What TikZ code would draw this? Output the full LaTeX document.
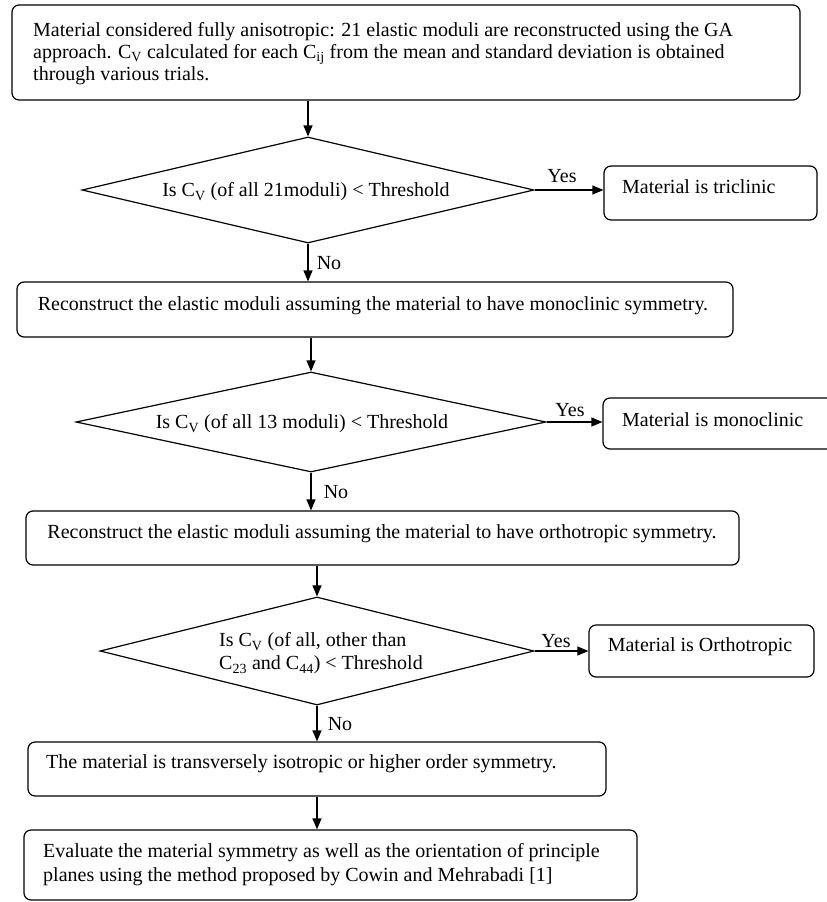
\documentclass[tikz,border=0pt]{standalone}
\usepackage{fontspec}
\setmainfont{Liberation Serif}
\usetikzlibrary{arrows.meta,shapes.geometric}
\tikzset{
  box/.style={draw, line width=1.2pt, rounded corners=7pt, inner sep=0pt},
  dia/.style={draw, diamond, line width=1.2pt, inner sep=0pt},
  txt/.style={inner sep=0pt, font=\fontsize{20}{23}\selectfont, align=left},
  conn/.style={line width=1.2pt, -{Triangle[length=11pt,width=9pt]}},
  lbl/.style={inner sep=0pt, font=\fontsize{20}{23}\selectfont},
}
\begin{document}
\begin{tikzpicture}[x=1pt,y=-1pt]
\useasboundingbox[fill=white] (0,0) rectangle (827,902);
% boxes
\node[box, minimum width=788pt, minimum height=95pt] (b1) at (406,52.5) {};
\node[box, minimum width=213pt, minimum height=54pt] (tri) at (710.5,193) {};
\node[box, minimum width=716pt, minimum height=55pt] (b2) at (375,309.5) {};
\node[box, minimum width=237pt, minimum height=51pt] (mono) at (721.5,423.5) {};
\node[box, minimum width=713pt, minimum height=54pt] (b3) at (382.5,538) {};
\node[box, minimum width=225pt, minimum height=52pt] (ortho) at (701.5,651) {};
\node[box, minimum width=578pt, minimum height=54pt] (b4) at (317,769) {};
\node[box, minimum width=613pt, minimum height=70pt] (b5) at (330.5,865) {};
% diamonds
\node[dia, minimum width=452pt, minimum height=106pt] (d1) at (308,190) {};
\node[dia, minimum width=470pt, minimum height=100pt] (d2) at (311,422) {};
\node[dia, minimum width=434pt, minimum height=108pt] (d3) at (317,651) {};
% texts
\node[txt, anchor=west, font=\fontsize{20}{22}\selectfont] (t1) at (33,54) {Material considered fully anisotropic: 21 elastic moduli are reconstructed using the GA\\approach. C\textsubscript{V} calculated for each C\textsubscript{ij} from the mean and standard deviation is obtained\\through various trials.};
\node[txt] (tq1) at (306,192) {Is C\textsubscript{V} (of all 21moduli) {\char`\<} Threshold};
\node[txt, anchor=west] (ttri) at (622,187) {Material is triclinic};
\node[txt] (t2) at (373,306) {Reconstruct the elastic moduli assuming the material to have monoclinic symmetry.};
\node[txt] (tq2) at (302,424) {Is C\textsubscript{V} (of all 13 moduli) {\char`\<} Threshold};
\node[txt, anchor=west] (tmono) at (622,420) {Material is monoclinic};
\node[txt] (t3) at (382,534) {Reconstruct the elastic moduli assuming the material to have orthotropic symmetry.};
\node[txt, anchor=west] (tq3) at (219,653.5) {Is C\textsubscript{V} (of all, other than\\C\textsubscript{23} and C\textsubscript{44}) {\char`\<} Threshold};
\node[txt] (tortho) at (700,647) {Material is Orthotropic};
\node[txt, anchor=west] (t4) at (46,764) {The material is transversely isotropic or higher order symmetry.};
\node[txt, anchor=west, font=\fontsize{20}{24}\selectfont] (t5) at (43,865) {Evaluate the material symmetry as well as the orientation of principle\\planes using the method proposed by Cowin and Mehrabadi [1]};
% labels
\node[lbl] (y1) at (562,176) {Yes};
\node[lbl] (y2) at (570,410) {Yes};
\node[lbl] (y3) at (556,641) {Yes};
\node[lbl] (n1) at (329,263) {No};
\node[lbl] (n2) at (336,492) {No};
\node[lbl] (n3) at (340,724) {No};
% connectors
\draw[conn] (d1.north |- b1.south) -- (d1.north);
\draw[conn] (d1.east) -- (d1.east -| tri.west);
\draw[conn] (d1.south) -- (d1.south |- b2.north);
\draw[conn] (d2.north |- b2.south) -- (d2.north);
\draw[conn] (d2.east) -- (d2.east -| mono.west);
\draw[conn] (d2.south) -- (d2.south |- b3.north);
\draw[conn] (d3.north |- b3.south) -- (d3.north);
\draw[conn] (d3.east) -- (d3.east -| ortho.west);
\draw[conn] (d3.south) -- (d3.south |- b4.north);
\draw[conn] (b4.south) -- (b4.south |- b5.north);
\end{tikzpicture}
\end{document}
